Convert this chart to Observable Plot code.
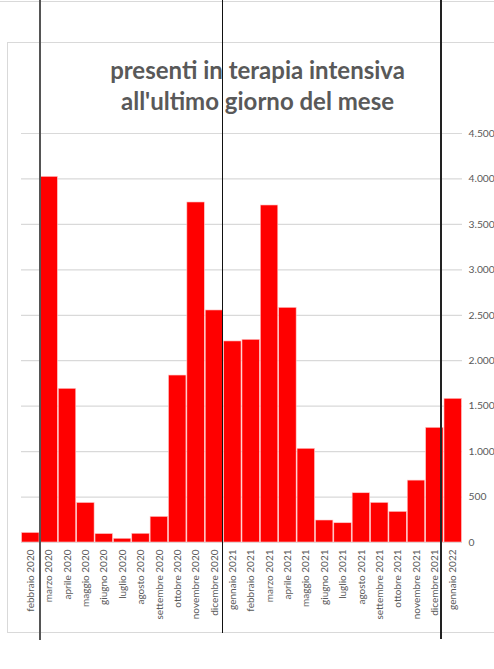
<!DOCTYPE html>
<html>
<head>
<meta charset="utf-8">
<script src="https://cdn.jsdelivr.net/npm/d3@7"></script>
<script src="https://cdn.jsdelivr.net/npm/@observablehq/plot@0.6"></script>
<style>
  html, body { margin: 0; padding: 0; background: #fff; }
  #wrap { position: relative; width: 494px; height: 669px; overflow: hidden; }
  #wrap svg { position: absolute; left: 0; top: 0; }
  .frame { position: absolute; left: 7px; top: 42px; width: 520px; height: 591px; border: 1.5px solid #d9d9d9; box-sizing: border-box; }
  .topline { position: absolute; left: 0; top: 0; width: 494px; height: 2px; border-bottom: 1.5px solid #d9d9d9; box-sizing: border-box; }
  .title { position: absolute; left: 0; width: 515px; top: 54px; text-align: center; font-family: Lato, sans-serif; font-weight: bold; font-size: 24px; line-height: 31px; color: #595959; }
  .vline { position: absolute; top: 0; }
</style>
</head>
<body>
<div id="wrap">
  <div class="topline"></div>
  <div class="frame"></div>
</div>
<script>
const categories = ["febbraio 2020","marzo 2020","aprile 2020","maggio 2020","giugno 2020","luglio 2020","agosto 2020","settembre 2020","ottobre 2020","novembre 2020","dicembre 2020","gennaio 2021","febbraio 2021","marzo 2021","aprile 2021","maggio 2021","giugno 2021","luglio 2021","agosto 2021","settembre 2021","ottobre 2021","novembre 2021","dicembre 2021","gennaio 2022"];
const values = [105, 4023, 1691, 435, 93, 41, 96, 282, 1837, 3741, 2553, 2212, 2230, 3708, 2582, 1031, 242, 212, 542, 436, 337, 681, 1262, 1581];
const yTicks = [0, 500, 1000, 1500, 2000, 2500, 3000, 3500, 4000, 4500];
const yTickLabels = ["0", "500", "1.000", "1.500", "2.000", "2.500", "3.000", "3.500", "4.000", "4.500"];
const titleLines = ["presenti in terapia intensiva", "all'ultimo giorno del mese"];
// annotation lines: category, fraction of step from the gap before it, colour, width, length
const markerCats = ["marzo 2020", "gennaio 2021", "dicembre 2021"];
const markerFrac = [0.02, -0.05, 0.86];
const markerStyle = [["#555", 1.6, 640], ["#111", 1.2, 633], ["#222", 1.2, 639]];

const data = categories.map((c, i) => ({cat: c, val: values[i]}));

const chart = Plot.plot({
  width: 494,
  height: 669,
  marginTop: 133,
  marginBottom: 127,
  marginLeft: 21,
  marginRight: 32,
  style: {fontFamily: "Lato, sans-serif", color: "#595959", background: "transparent", overflow: "visible"},
  x: {domain: categories, paddingInner: 0.05, paddingOuter: 0.03, round: false, axis: null, label: null},
  y: {domain: [0, 4500], axis: null, label: null},
  marks: [
    Plot.gridY(yTicks, {stroke: "#d9d9d9", strokeOpacity: 1, strokeWidth: 1.2}),
    Plot.barY(data, {x: "cat", y: "val", fill: "#ff0000", stroke: "#ffc8c8", strokeWidth: 0.6}),
    Plot.axisX({tickSize: 0, tickRotate: -90, tickPadding: 7, fontSize: 10, fill: "#595959", label: null}),
    Plot.axisY({anchor: "right", ticks: yTicks, tickFormat: d => yTickLabels[yTicks.indexOf(d)], tickSize: 0, tickPadding: 6, fontSize: 10.3, fill: "#595959", label: null})
  ]
});

const wrap = document.getElementById("wrap");
wrap.appendChild(chart);

const title = document.createElement("div");
title.className = "title";
title.innerHTML = titleLines.join("<br>");
wrap.appendChild(title);

const xs = chart.scale("x");
const step = xs.step;
markerCats.forEach((c, i) => {
  const x = xs.apply(c) - (step - xs.bandwidth) / 2 + markerFrac[i] * step;
  const [col, w, len] = markerStyle[i];
  const d = document.createElement("div");
  d.className = "vline";
  d.style.left = (x - w / 2) + "px";
  d.style.width = w + "px";
  d.style.height = len + "px";
  d.style.background = col;
  wrap.appendChild(d);
});
</script>
</body>
</html>
